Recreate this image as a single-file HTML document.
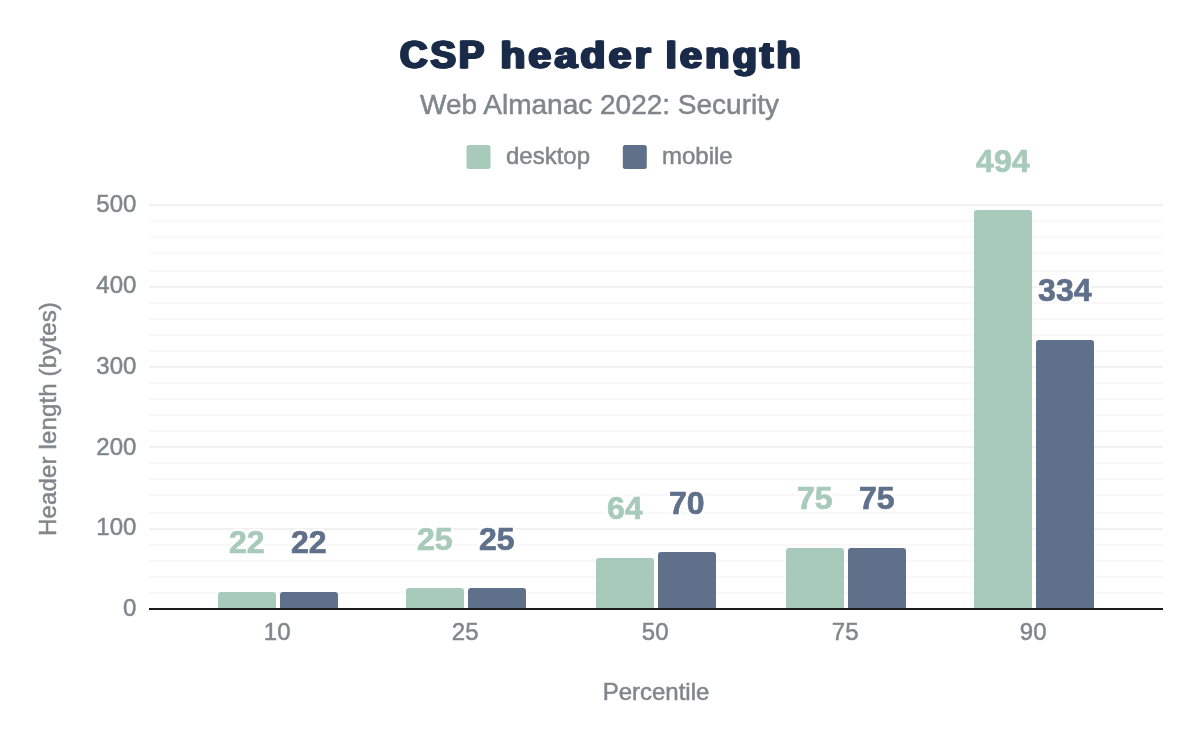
<!DOCTYPE html>
<html lang="en"><head><meta charset="utf-8"><title>CSP header length</title>
<style>html,body{margin:0;padding:0;background:#fff}svg{display:block}text{font-family:"Liberation Sans",Arial,sans-serif}.g{fill:#80868b;stroke:#80868b;stroke-width:.5px}</style></head><body>
<svg width="1200" height="742" viewBox="0 0 1200 742">
<rect width="1200" height="742" fill="#fff"/>
<defs><filter id="hb" x="-5%" y="-10%" width="110%" height="120%" color-interpolation-filters="sRGB"><feOffset in="SourceGraphic" dx="-1.0" result="l"/><feOffset in="SourceGraphic" dx="1.0" result="r"/><feMerge><feMergeNode in="l"/><feMergeNode in="SourceGraphic"/><feMergeNode in="r"/></feMerge></filter><filter id="halo" x="-10%" y="-20%" width="120%" height="140%" color-interpolation-filters="sRGB"><feMorphology in="SourceAlpha" operator="dilate" radius="2" result="d"/><feFlood flood-color="#fff"/><feComposite in2="d" operator="in" result="h"/><feMerge><feMergeNode in="h"/><feMergeNode in="SourceGraphic"/></feMerge></filter></defs>
<text y="68.2" font-weight="bold" fill="#1a2b49" stroke="#1a2b49" stroke-width="1.0" stroke-linejoin="round" filter="url(#hb)" letter-spacing="3"><tspan x="400.0" font-size="38.6" textLength="87.2" lengthAdjust="spacingAndGlyphs">CSP</tspan> <tspan x="500.4" font-size="36" textLength="153.6" lengthAdjust="spacingAndGlyphs">header</tspan> <tspan x="665.8" font-size="36" textLength="138.0" lengthAdjust="spacingAndGlyphs">length</tspan></text>
<text x="599.5" y="114" text-anchor="middle" font-size="28" class="g">Web Almanac 2022: Security</text>
<rect x="466.5" y="145" width="24" height="24" rx="2.5" fill="#a8caba"/>
<text x="506" y="164" font-size="24" class="g">desktop</text>
<rect x="622.8" y="145" width="24" height="24" rx="2.5" fill="#5f708b"/>
<text x="662" y="164" font-size="24" class="g">mobile</text>
<rect x="149" y="204" width="1014" height="2" fill="#f1f1f1"/>
<rect x="149" y="220" width="1014" height="2" fill="#f8f8f8"/>
<rect x="149" y="236" width="1014" height="2" fill="#f8f8f8"/>
<rect x="149" y="252" width="1014" height="2" fill="#f8f8f8"/>
<rect x="149" y="270" width="1014" height="2" fill="#f8f8f8"/>
<rect x="149" y="286" width="1014" height="2" fill="#f1f1f1"/>
<rect x="149" y="302" width="1014" height="2" fill="#f8f8f8"/>
<rect x="149" y="318" width="1014" height="2" fill="#f8f8f8"/>
<rect x="149" y="334" width="1014" height="2" fill="#f8f8f8"/>
<rect x="149" y="350" width="1014" height="2" fill="#f8f8f8"/>
<rect x="149" y="366" width="1014" height="2" fill="#f1f1f1"/>
<rect x="149" y="382" width="1014" height="2" fill="#f8f8f8"/>
<rect x="149" y="398" width="1014" height="2" fill="#f8f8f8"/>
<rect x="149" y="414" width="1014" height="2" fill="#f8f8f8"/>
<rect x="149" y="430" width="1014" height="2" fill="#f8f8f8"/>
<rect x="149" y="446" width="1014" height="2" fill="#f1f1f1"/>
<rect x="149" y="462" width="1014" height="2" fill="#f8f8f8"/>
<rect x="149" y="478" width="1014" height="2" fill="#f8f8f8"/>
<rect x="149" y="494" width="1014" height="2" fill="#f8f8f8"/>
<rect x="149" y="512" width="1014" height="2" fill="#f8f8f8"/>
<rect x="149" y="528" width="1014" height="2" fill="#f1f1f1"/>
<rect x="149" y="544" width="1014" height="2" fill="#f8f8f8"/>
<rect x="149" y="560" width="1014" height="2" fill="#f8f8f8"/>
<rect x="149" y="576" width="1014" height="2" fill="#f8f8f8"/>
<rect x="149" y="592" width="1014" height="2" fill="#f8f8f8"/>
<text x="136.4" y="616.20" text-anchor="end" font-size="24" class="g">0</text>
<text x="136.4" y="535.40" text-anchor="end" font-size="24" class="g">100</text>
<text x="136.4" y="454.60" text-anchor="end" font-size="24" class="g">200</text>
<text x="136.4" y="373.80" text-anchor="end" font-size="24" class="g">300</text>
<text x="136.4" y="293.00" text-anchor="end" font-size="24" class="g">400</text>
<text x="136.4" y="212.20" text-anchor="end" font-size="24" class="g">500</text>
<text transform="translate(55.8,419) rotate(-90)" text-anchor="middle" font-size="24" letter-spacing="0.15" class="g">Header length (bytes)</text>
<path d="M218.00 608.00V595.00Q218.00 592.00 221.00 592.00H273.00Q276.00 592.00 276.00 595.00V608.00Z" fill="#a8caba"/>
<path d="M280.00 608.00V595.00Q280.00 592.00 283.00 592.00H335.00Q338.00 592.00 338.00 595.00V608.00Z" fill="#5f708b"/>
<text x="246.8" y="552.6" font-size="32" font-weight="bold" text-anchor="middle" stroke-width="0.7" filter="url(#halo)" fill="#a8caba" stroke="#a8caba">22</text>
<text x="308.8" y="552.6" font-size="32" font-weight="bold" text-anchor="middle" stroke-width="0.7" filter="url(#halo)" fill="#5f708b" stroke="#5f708b">22</text>
<text x="277.2" y="640" text-anchor="middle" font-size="24" class="g">10</text>
<path d="M406.00 608.00V591.00Q406.00 588.00 409.00 588.00H461.00Q464.00 588.00 464.00 591.00V608.00Z" fill="#a8caba"/>
<path d="M468.00 608.00V591.00Q468.00 588.00 471.00 588.00H523.00Q526.00 588.00 526.00 591.00V608.00Z" fill="#5f708b"/>
<text x="434.8" y="549.6" font-size="32" font-weight="bold" text-anchor="middle" stroke-width="0.7" filter="url(#halo)" fill="#a8caba" stroke="#a8caba">25</text>
<text x="496.8" y="549.6" font-size="32" font-weight="bold" text-anchor="middle" stroke-width="0.7" filter="url(#halo)" fill="#5f708b" stroke="#5f708b">25</text>
<text x="465.2" y="640" text-anchor="middle" font-size="24" class="g">25</text>
<path d="M596.00 608.00V561.00Q596.00 558.00 599.00 558.00H651.00Q654.00 558.00 654.00 561.00V608.00Z" fill="#a8caba"/>
<path d="M658.00 608.00V555.00Q658.00 552.00 661.00 552.00H713.00Q716.00 552.00 716.00 555.00V608.00Z" fill="#5f708b"/>
<text x="624.8" y="518.7" font-size="32" font-weight="bold" text-anchor="middle" stroke-width="0.7" filter="url(#halo)" fill="#a8caba" stroke="#a8caba">64</text>
<text x="686.8" y="513.7" font-size="32" font-weight="bold" text-anchor="middle" stroke-width="0.7" filter="url(#halo)" fill="#5f708b" stroke="#5f708b">70</text>
<text x="655.2" y="640" text-anchor="middle" font-size="24" class="g">50</text>
<path d="M786.00 608.00V551.00Q786.00 548.00 789.00 548.00H841.00Q844.00 548.00 844.00 551.00V608.00Z" fill="#a8caba"/>
<path d="M848.00 608.00V551.00Q848.00 548.00 851.00 548.00H903.00Q906.00 548.00 906.00 551.00V608.00Z" fill="#5f708b"/>
<text x="814.8" y="509.4" font-size="32" font-weight="bold" text-anchor="middle" stroke-width="0.7" filter="url(#halo)" fill="#a8caba" stroke="#a8caba">75</text>
<text x="876.8" y="509.4" font-size="32" font-weight="bold" text-anchor="middle" stroke-width="0.7" filter="url(#halo)" fill="#5f708b" stroke="#5f708b">75</text>
<text x="845.2" y="640" text-anchor="middle" font-size="24" class="g">75</text>
<path d="M974.00 608.00V213.00Q974.00 210.00 977.00 210.00H1029.00Q1032.00 210.00 1032.00 213.00V608.00Z" fill="#a8caba"/>
<path d="M1036.00 608.00V343.00Q1036.00 340.00 1039.00 340.00H1091.00Q1094.00 340.00 1094.00 343.00V608.00Z" fill="#5f708b"/>
<text x="1002.8" y="171.8" font-size="32" font-weight="bold" text-anchor="middle" stroke-width="0.7" filter="url(#halo)" fill="#a8caba" stroke="#a8caba">494</text>
<text x="1064.8" y="300.6" font-size="32" font-weight="bold" text-anchor="middle" stroke-width="0.7" filter="url(#halo)" fill="#5f708b" stroke="#5f708b">334</text>
<text x="1033.2" y="640" text-anchor="middle" font-size="24" class="g">90</text>
<rect x="149" y="608" width="1014" height="2" fill="#1c1c1c"/>
<text x="656" y="700" text-anchor="middle" font-size="24" class="g">Percentile</text>
</svg></body></html>
